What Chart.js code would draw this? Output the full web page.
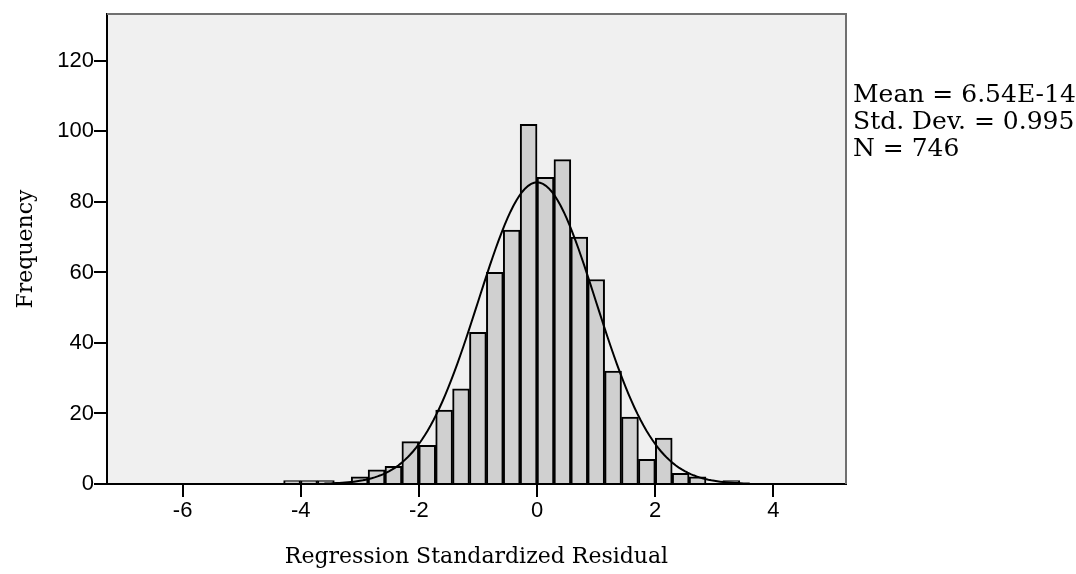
<!DOCTYPE html>
<html>
<head>
<meta charset="utf-8">
<script src="https://cdn.jsdelivr.net/npm/chart.js@4.4.1/dist/chart.umd.min.js"></script>
<style>
  html, body { margin: 0; padding: 0; background: #ffffff; }
  #wrap { width: 1076px; height: 574px; }
</style>
</head>
<body>
<div id="wrap"><canvas id="histChart"></canvas></div>
<script>
// bin centres (bin width ~0.286) and counts
const binCenters = [-4.147, -3.861, -3.575, -3.289, -3.003, -2.717, -2.431, -2.145, -1.859,
    -1.573, -1.287, -1.001, -0.715, -0.429, -0.143, 0.143, 0.429, 0.715, 1.001, 1.287,
    1.573, 1.859, 2.145, 2.431, 2.717, 3.003, 3.289];
const binCounts = [1, 1, 1, 0, 2, 4, 5, 12, 11,
    21, 27, 43, 60, 72, 102, 87, 92, 70, 58, 32,
    19, 7, 13, 3, 2, 0, 1];
const binWidth = 0.286;

const xTicks = [-6, -4, -2, 0, 2, 4];
const yTicks = [0, 20, 40, 60, 80, 100, 120];

const statMean = 6.54e-14;
const statSd = 0.995;
const statN = 746;
const statLines = ['Mean = 6.54E-14', 'Std. Dev. = 0.995', 'N = 746'];

// fitted normal curve from the stats shown in the chart
const curveXs = [];
for (let x = -3.6; x <= 3.6001; x += 0.05) curveXs.push(+x.toFixed(2));
const curvePoints = curveXs.map(x => ({
    x: x,
    y: statN * binWidth / (statSd * Math.sqrt(2 * Math.PI)) *
        Math.exp(-0.5 * Math.pow((x - statMean) / statSd, 2))
}));

const barPoints = binCenters.map((c, i) => ({x: c, y: binCounts[i]}));

const frame = {
    id: 'frame',
    beforeDraw(chart) {
        const {ctx, chartArea: a} = chart;
        ctx.save();
        ctx.fillStyle = '#f0f0f0';
        ctx.fillRect(a.left, a.top, a.right - a.left, a.bottom - a.top);
        ctx.restore();
    },
    afterDraw(chart) {
        const {ctx, chartArea: a} = chart;
        ctx.save();
        ctx.strokeStyle = '#707070';
        ctx.lineWidth = 2;
        ctx.beginPath();
        ctx.moveTo(a.left, a.top);
        ctx.lineTo(a.right, a.top);
        ctx.lineTo(a.right, a.bottom);
        ctx.stroke();

        ctx.fillStyle = '#000';
        ctx.font = '25px "DejaVu Serif"';
        ctx.textBaseline = 'alphabetic';
        ctx.textAlign = 'left';
        statLines.forEach((t, i) => {
            ctx.fillText(t, a.right + 7, 102 + i * 27);
        });
        ctx.restore();
    }
};

const ctx = document.getElementById('histChart').getContext('2d');
window.histChart = new Chart(ctx, {
    type: 'bar',
    data: {
        datasets: [
            {
                type: 'line',
                data: curvePoints,
                borderColor: '#000',
                borderWidth: 2,
                pointRadius: 0,
                tension: 0,
                fill: false,
                order: 0
            },
            {
                type: 'bar',
                data: barPoints,
                backgroundColor: '#d0d0d0',
                borderColor: '#000',
                borderWidth: 2,
                barPercentage: 1,
                categoryPercentage: 1,
                order: 1
            }
        ]
    },
    options: {
        responsive: true,
        maintainAspectRatio: false,
        animation: false,
        layout: {padding: {top: 14, right: 230, left: 0, bottom: 0}},
        plugins: {legend: {display: false}, tooltip: {enabled: false}},
        scales: {
            x: {
                type: 'linear',
                min: -7.28,
                max: 5.23,
                offset: false,
                z: 1,
                afterFit: s => { s.height = 90; },
                afterBuildTicks: s => { s.ticks = xTicks.map(v => ({value: v})); },
                ticks: {
                    color: '#000',
                    font: {family: '"Liberation Sans"', size: 22},
                    padding: 1,
                    maxRotation: 0
                },
                grid: {drawOnChartArea: false, offset: false, tickLength: 13, color: '#000', lineWidth: 2},
                border: {display: true, color: '#000', width: 2},
                title: {
                    display: true,
                    text: 'Regression Standardized Residual',
                    color: '#000',
                    font: {family: '"DejaVu Serif"', size: 22},
                    padding: {top: 0, bottom: 4}
                }
            },
            y: {
                type: 'linear',
                min: 0,
                max: 133.3,
                z: 1,
                afterFit: s => { s.width = 107; },
                afterBuildTicks: s => { s.ticks = yTicks.map(v => ({value: v})); },
                ticks: {
                    color: '#000',
                    font: {family: '"Liberation Sans"', size: 22},
                    padding: 0
                },
                grid: {drawOnChartArea: false, tickLength: 13, color: '#000', lineWidth: 2},
                border: {display: true, color: '#000', width: 2},
                title: {
                    display: true,
                    text: 'Frequency',
                    color: '#000',
                    font: {family: '"DejaVu Serif"', size: 22},
                    padding: {top: 13, bottom: 0}
                }
            }
        }
    },
    plugins: [frame]
});
</script>
</body>
</html>
